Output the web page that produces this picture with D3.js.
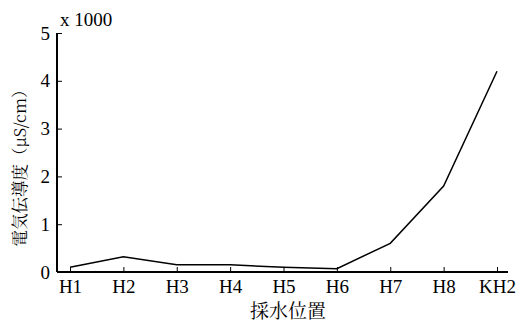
<!DOCTYPE html>
<html><head><meta charset="utf-8">
<script src="https://cdn.jsdelivr.net/npm/d3@7"></script>
<style>
body{margin:0;background:#fff;}
svg{display:block;}
</style></head>
<body>
<svg id="c" width="519" height="322"></svg>
<script>
const categories = ["H1","H2","H3","H4","H5","H6","H7","H8","KH2"];
const values = [0.1, 0.32, 0.15, 0.15, 0.1, 0.07, 0.6, 1.8, 4.2];
const yTicks = [0,1,2,3,4,5];

const SERIF = '"Liberation Serif"';
const JP = '"Noto Serif CJK JP"';

const svg = d3.select("#c");
const x0 = 57, x1 = 508, yTop = 33, yBot = 272;

const x = d3.scalePoint().domain(categories).range([70, 497]);
const y = d3.scaleLinear().domain([0,5]).range([yBot, yTop]);

// x axis
const gx = svg.append("g").attr("transform", `translate(0,${yBot})`);
gx.append("line").attr("x1", x0).attr("x2", x1).attr("stroke","#000").attr("stroke-width",2);
const subx = gx.append("g").call(d3.axisBottom(x).tickSize(-5).tickPadding(8));
subx.select(".domain").remove();
subx.selectAll(".tick line").attr("stroke","#000").attr("stroke-width",1);
subx.selectAll(".tick text").style("font-family",SERIF).style("font-size","19px").attr("fill","#000");

// y axis
const gy = svg.append("g").attr("transform", `translate(${x0},0)`);
gy.append("line").attr("y1", yTop).attr("y2", yBot).attr("stroke","#000").attr("stroke-width",2);
const suby = gy.append("g").call(d3.axisLeft(y).tickValues(yTicks).tickFormat(d3.format("d")).tickSize(-5).tickPadding(7));
suby.select(".domain").remove();
suby.selectAll(".tick line").attr("stroke","#000").attr("stroke-width",1);
suby.selectAll(".tick text").style("font-family",SERIF).style("font-size","19px").attr("fill","#000");

// multiplier
svg.append("text").attr("x", 60).attr("y", 26).style("font-family",SERIF)
  .style("font-size","19px").text("x 1000");

// line
const line = d3.line().x((d,i)=>x(categories[i])).y(d=>y(d));
svg.append("path").datum(values).attr("d", line).attr("fill","none")
  .attr("stroke","#000").attr("stroke-width",1.5);

// axis titles
svg.append("text").attr("x", 288).attr("y", 318).attr("text-anchor","middle")
  .style("font-family",JP).style("font-size","19px").text("採水位置");

svg.append("text").attr("transform","translate(26,164) rotate(-90)").attr("text-anchor","middle")
  .style("font-family",JP).style("font-size","16.5px")
  .text("電気伝導度（μS/cm）");
</script>
</body></html>
